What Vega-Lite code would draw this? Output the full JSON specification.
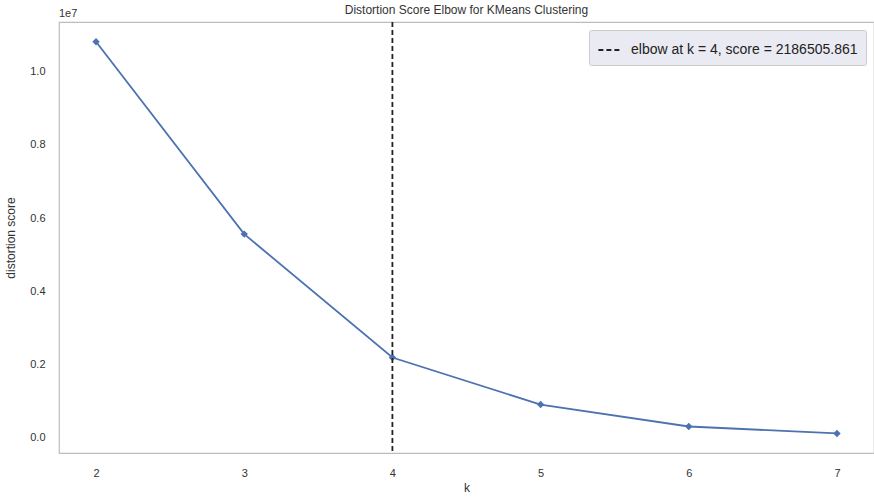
{
  "$schema": "https://vega.github.io/schema/vega-lite/v6.json",
  "autosize": "none",
  "width": 815,
  "height": 431,
  "padding": {"left": 59, "top": 22, "right": 0, "bottom": 45},
  "background": "white",
  "config": {
    "font": "Liberation Sans",
    "view": {"stroke": "#bdbdbd", "strokeWidth": 1.2},
    "axis": {"domain": false, "grid": false, "ticks": false, "labelFont": "Liberation Sans", "titleFont": "Liberation Sans", "labelColor": "#333333", "titleColor": "#333333", "labelFontSize": 11, "titleFontSize": 12, "titleFontWeight": "normal"}
  },
  "title": {"text": "Distortion Score Elbow for KMeans Clustering", "fontSize": 12, "fontWeight": "normal", "color": "#333333", "font": "Liberation Sans", "offset": -9},
  "datasets": {
    "scores": [
      {"k": 2, "score": 10820000},
      {"k": 3, "score": 5560000},
      {"k": 4, "score": 2186505.861},
      {"k": 5, "score": 900000},
      {"k": 6, "score": 300000},
      {"k": 7, "score": 110000}
    ],
    "elbow": [
      {"k": 4, "label": "elbow at k = 4, score = 2186505.861"}
    ]
  },
  "layer": [
    {
      "data": {"name": "scores"},
      "mark": {"type": "line", "color": "#4c72b0", "strokeWidth": 1.8},
      "encoding": {
        "x": {"field": "k", "type": "quantitative", "scale": {"domain": [1.75, 7.25], "nice": false, "zero": false}, "axis": {"values": [2, 3, 4, 5, 6, 7], "format": "d", "title": "k", "labelPadding": 14, "titlePadding": 4}},
        "y": {"field": "score", "type": "quantitative", "scale": {"domain": [-425000, 11360000], "nice": false, "zero": false}, "axis": {"values": [0, 2000000, 4000000, 6000000, 8000000, 10000000], "labelExpr": "format(datum.value / 10000000, '.1f')", "title": "distortion score", "labelPadding": 14, "titlePadding": 12}}
      }
    },
    {
      "data": {"name": "scores"},
      "mark": {"type": "point", "shape": "diamond", "filled": true, "color": "#4c72b0", "size": 55, "opacity": 1},
      "encoding": {
        "x": {"field": "k", "type": "quantitative"},
        "y": {"field": "score", "type": "quantitative"}
      }
    },
    {
      "data": {"name": "elbow"},
      "mark": {"type": "rule", "color": "#222222", "strokeWidth": 1.8},
      "encoding": {
        "x": {"field": "k", "type": "quantitative"},
        "strokeDash": {"field": "label", "type": "nominal", "scale": {"range": [[5, 3]]}, "legend": {"title": null, "orient": "top-right", "offset": 8, "fillColor": "#eaeaf2", "strokeColor": "#cccccc", "padding": 8, "labelFontSize": 14, "labelLimit": 0, "labelOffset": 10, "labelColor": "#222222", "labelFont": "Liberation Sans", "symbolType": "stroke", "symbolStrokeColor": "#222222", "symbolStrokeWidth": 2, "symbolSize": 450, "cornerRadius": 2}}
      }
    },
    {
      "data": {"values": [{"t": "1e7"}]},
      "mark": {"type": "text", "align": "left", "baseline": "bottom", "dy": -3, "fontSize": 11, "color": "#333333", "font": "Liberation Sans"},
      "encoding": {
        "x": {"datum": 1.75},
        "y": {"datum": 11360000},
        "text": {"field": "t"}
      }
    }
  ]
}
